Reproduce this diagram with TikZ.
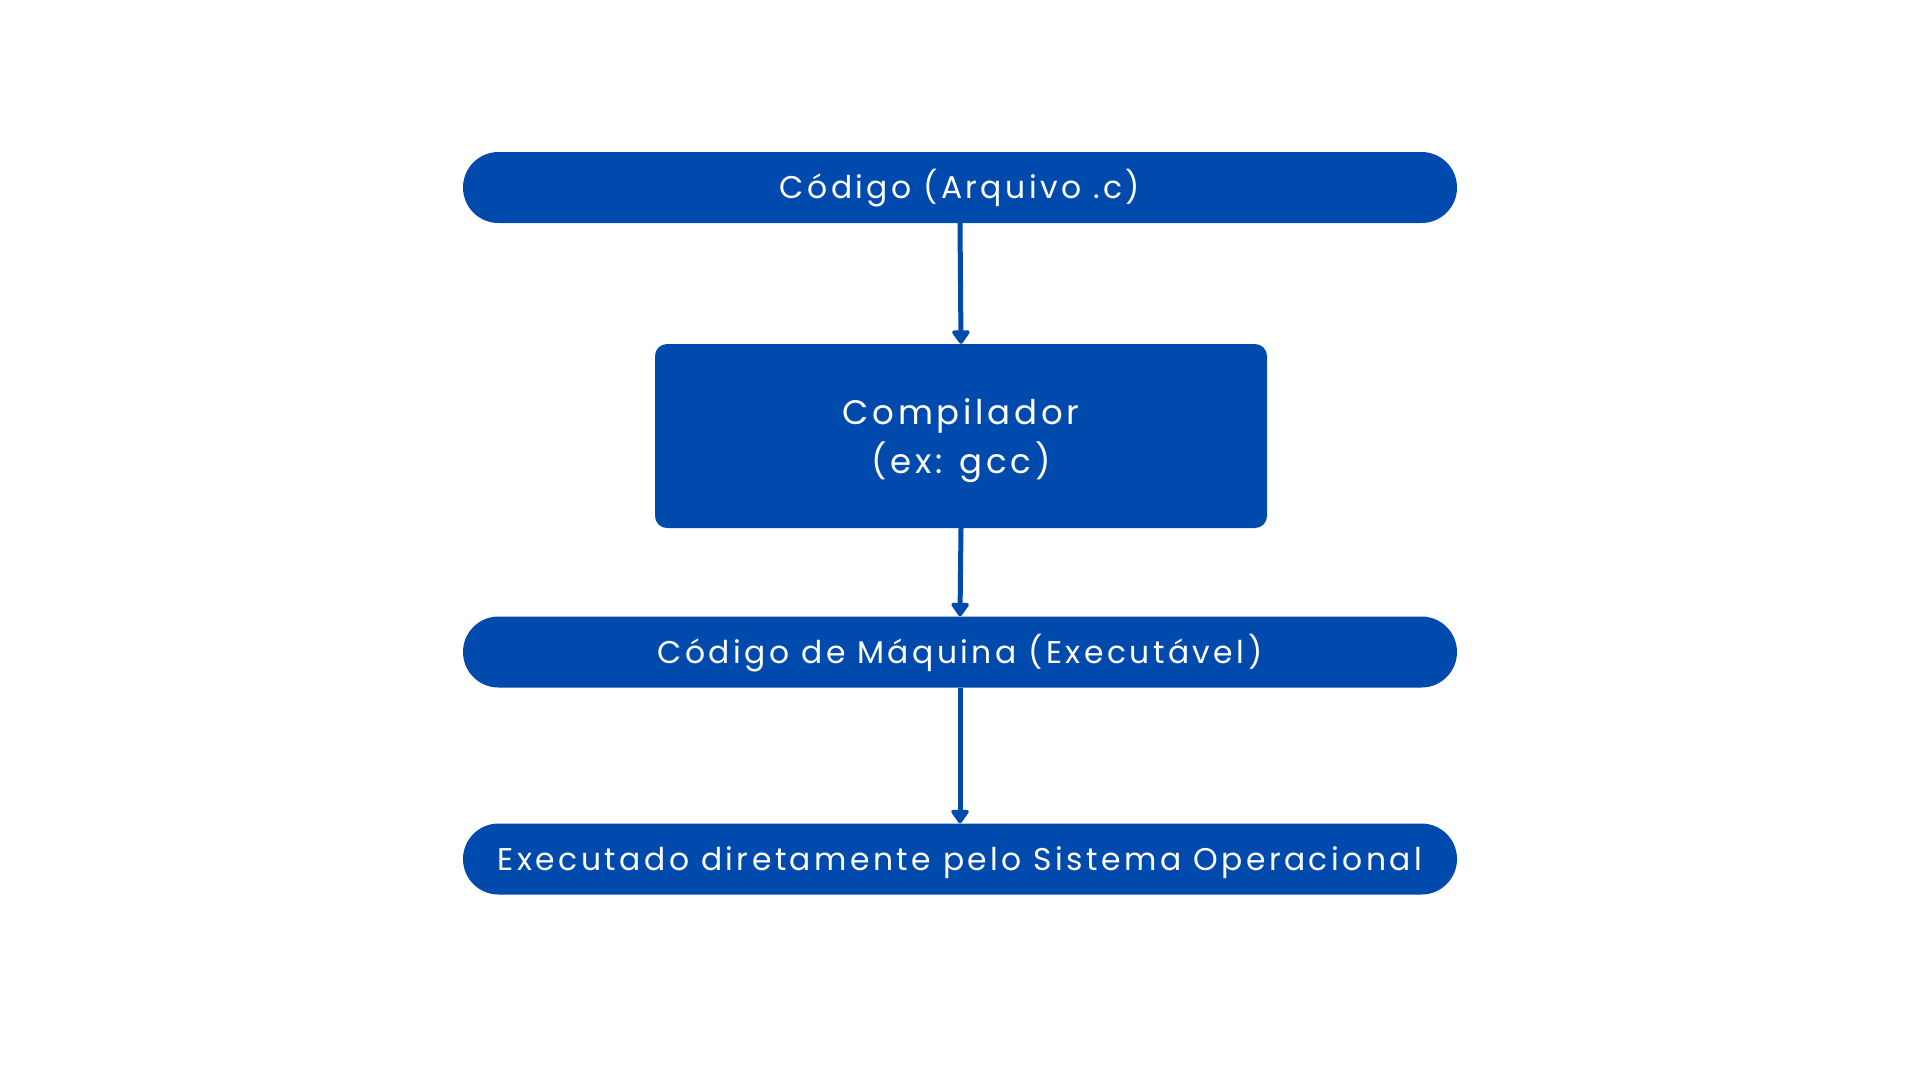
\documentclass[tikz,border=0pt]{standalone}
\usepackage{fontspec}
\setmainfont[LetterSpace=11]{Poppins}
\usetikzlibrary{arrows.meta}
\definecolor{cblue}{HTML}{004AAD}
\tikzset{
  pill/.style={fill=cblue, text=white, rounded corners=35.5pt, minimum width=994pt, minimum height=71pt, inner sep=0pt, text height=24pt, text depth=2pt, font=\fontsize{31.4}{36}\selectfont},
  procbox/.style={fill=cblue, rounded corners=12pt, minimum width=612pt, minimum height=184pt, inner sep=0pt},
  proctext/.style={text=white, align=center, font=\fontsize{34}{49}\selectfont},
  flow/.style={draw=cblue, line width=5pt, -{Triangle[width=20pt,length=15pt,round]}}
}
\begin{document}
\begin{tikzpicture}[x=1pt,y=-1pt]
\useasboundingbox (0,0) rectangle (1920,1080);
\node[pill] (src) at (960,187.5) {Código (Arquivo .c)};
\node[procbox, label={[proctext, yshift=-5pt]center:Compilador\\(ex: gcc)}] (cc) at (961,436) {};
\node[pill] (mach) at (960,652) {Código de Máquina (Executável)};
\node[pill] (os) at (960,859) {Executado diretamente pelo Sistema Operacional};
\draw[flow] (src.south) -- (cc.north);
\draw[flow] (cc.south) -- (mach.north);
\draw[flow] (mach.south) -- (os.north);
\end{tikzpicture}
\end{document}
